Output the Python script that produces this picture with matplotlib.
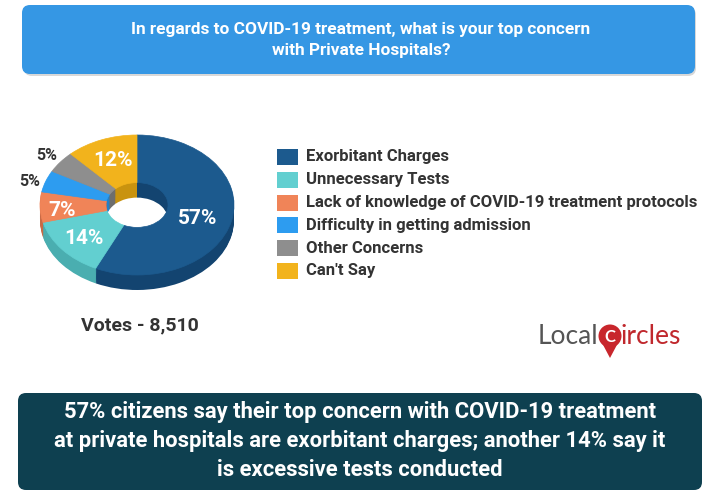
import matplotlib
matplotlib.use("Agg")
import matplotlib.pyplot as plt
from matplotlib.patches import FancyBboxPatch, Rectangle, Circle, Polygon

# ---------------- data ----------------
categories = ["Exorbitant Charges", "Unnecessary Tests",
              "Lack of knowledge of COVID-19 treatment protocols",
              "Difficulty in getting admission", "Other Concerns", "Can't Say"]
values = [57, 14, 7, 5, 5, 12]
colors = ["#1c5a8e", "#62cfd0", "#f08458", "#2d9cf0", "#8e8e8e", "#f2b31c"]
side_colors = ["#134470", "#4aaeb0", "#c86a45", "#2480c8", "#6e6e6e", "#c9930f"]
votes_label = "Votes - 8,510"
title_text = "In regards to COVID-19 treatment, what is your top concern\nwith Private Hospitals?"
summary_text = ("57% citizens say their top concern with COVID-19 treatment\n"
                "at private hospitals are exorbitant charges; another 14% say it\n"
                "is excessive tests conducted")

FONT = ["Roboto", "DejaVu Sans"]
plt.rcParams["font.family"] = FONT

W, H = 720, 496
fig = plt.figure(figsize=(7.2, 4.96), dpi=100)
fig.patch.set_facecolor("white")

# ---------------- donut ----------------
cx, cy, rx, ry, depth = 137, 205, 97, 70, 15
top_px = cy - ry
bot_px = cy + ry + depth
ax = fig.add_axes([(cx - rx) / W, 1 - bot_px / H, 2 * rx / W, (bot_px - top_px) / H])
d = depth / ry
nsteps = 16
for k in range(nsteps, 0, -1):
    ax.pie(values, colors=side_colors, startangle=90, counterclock=False,
           center=(0, -d * k / nsteps), radius=1,
           wedgeprops=dict(width=0.68, linewidth=0.6))
wedges, _ = ax.pie(values, colors=colors, startangle=90, counterclock=False,
                   center=(0, 0), radius=1, wedgeprops=dict(width=0.68, linewidth=0))
for w, c in zip(wedges, colors):
    w.set_edgecolor(c)
    w.set_linewidth(0.5)
ax.set_aspect("auto")
ax.set_xlim(-1, 1)
ax.set_ylim(-1 - d, 1)
ax.axis("off")
ax.set_zorder(1)

# overlay in pixel coordinates
bg = fig.add_axes([0, 0, 1, 1])
bg.set_xlim(0, W)
bg.set_ylim(H, 0)
bg.axis("off")
bg.set_zorder(2)

# top banner
bg.add_patch(FancyBboxPatch((24, 7), 672, 69, boxstyle="round,pad=0,rounding_size=8",
                            fc="#d8d8d8", ec="none", zorder=1))
bg.add_patch(FancyBboxPatch((22, 5), 673, 69, boxstyle="round,pad=0,rounding_size=8",
                            fc="#3597e4", ec="none", zorder=2))
bg.text(361, 40, title_text, ha="center", va="center", color="white",
        fontsize=12.4, fontweight="bold", linespacing=1.55, zorder=3)

# bottom banner
bg.add_patch(FancyBboxPatch((18, 393), 684, 97, boxstyle="round,pad=0,rounding_size=8",
                            fc="#0e4050", ec="none", zorder=2))
bg.text(360, 441, summary_text, ha="center", va="center", color="white",
        fontsize=15.8, fontweight="bold", linespacing=1.4, zorder=3)

# value labels (pixel positions)
label_pos = [(198, 218, "white"), (84, 239, "white"), (62, 210, "white"),
             (30, 182, "#333333"), (47, 155, "#333333"), (113, 160, "white")]
for v, (lx, ly, lc) in zip(values, label_pos):
    fs = 15 if lc == "white" else 11.5
    bg.text(lx, ly, f"{v}%", ha="center", va="center", color=lc,
            fontsize=fs, fontweight="bold", zorder=5)

bg.text(140, 325, votes_label, ha="center", va="center", color="#333333",
        fontsize=14, fontweight="bold")

# ---------------- legend ----------------
ly0, dy = 157, 22.8
for i, (cat, c) in enumerate(zip(categories, colors)):
    y = ly0 + i * dy
    bg.add_patch(Rectangle((277, y - 8), 21, 16, fc=c, ec="none"))
    bg.text(306, y, cat, ha="left", va="center", color="#333333",
            fontsize=12, fontweight="bold")

# ---------------- logo ----------------
LOGO = ["Lato", "DejaVu Sans"]
bg.text(598, 337, "Local", ha="right", va="center", color="#555555",
        fontsize=19, family=LOGO)
bg.add_patch(Polygon([[601, 341], [619, 341], [610, 358]], fc="#c8262c", ec="none"))
bg.add_patch(Circle((610, 336), 11.5, fc="#c8262c", ec="none"))
bg.text(610, 336.5, "C", ha="center", va="center", color="white", fontsize=12,
        fontweight="bold", family=LOGO)
bg.text(621, 337, "ircles", ha="left", va="center", color="#c0282d",
        fontsize=19, family=LOGO)

fig.savefig("out.png", dpi=100, facecolor="white")
